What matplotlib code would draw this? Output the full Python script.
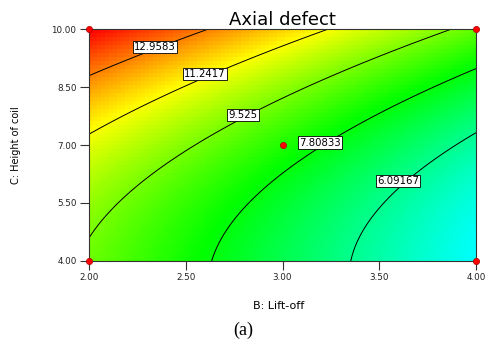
import matplotlib
matplotlib.use("Agg")
import matplotlib.pyplot as plt
import numpy as np
from matplotlib.colors import LinearSegmentedColormap

# factor ranges (actual units)
b_range = [2.0, 4.0]      # B: Lift-off
c_range = [4.0, 10.0]     # C: Height of coil

# quadratic model in coded units: a, b, c, bc, b^2, c^2
coef = [8.35, -2.574, 2.4835, -0.1865, 0.06, 1.06]

levels = [6.09167, 7.80833, 9.525, 11.2417, 12.9583]
x_ticks = [2.00, 2.50, 3.00, 3.50, 4.00]
y_ticks = [4.00, 5.50, 7.00, 8.50, 10.00]

# design points shown in red
design_b = [2.0, 4.0, 2.0, 4.0, 3.0]
design_c = [10.0, 10.0, 4.0, 4.0, 7.0]

# where the contour labels sit
label_pos = [(3.597, 6.07), (3.194, 7.06), (2.796, 7.78), (2.600, 8.84), (2.341, 9.53)]

FONT = "DejaVu Sans"


def model(b, c):
    x = (b - 3.0) / 1.0
    y = (c - 7.0) / 3.0
    return (coef[0] + coef[1] * x + coef[2] * y + coef[3] * x * y
            + coef[4] * x ** 2 + coef[5] * y ** 2)


fig = plt.figure(figsize=(4.86, 3.42), dpi=100)
ax = fig.add_axes([89 / 486, 1 - 261 / 342, 387 / 486, 232 / 342])

# coarse grid for the colour fill (blocky like the original)
bb = np.linspace(b_range[0], b_range[1], 97)
cc = np.linspace(c_range[0], c_range[1], 58)
BB, CC = np.meshgrid(bb, cc)
ZZ = model(BB, CC)

cmap = LinearSegmentedColormap.from_list(
    "de", ["#00ffff", "#00ff00", "#ffff00", "#ff0000"])
ax.imshow(ZZ, origin="lower", extent=[2, 4, 4, 10], aspect="auto",
          cmap=cmap, vmin=4.55, vmax=14.75, interpolation="nearest")

# fine grid for the contour lines
bf = np.linspace(b_range[0], b_range[1], 300)
cf = np.linspace(c_range[0], c_range[1], 300)
BF, CF = np.meshgrid(bf, cf)
ax.contour(BF, CF, model(BF, CF), levels=levels, colors="black", linewidths=0.7)

for lev, (px, py) in zip(levels, label_pos):
    ax.text(px, py, f"{lev:g}", fontsize=7.3, family=FONT,
            ha="center", va="center",
            bbox=dict(boxstyle="square,pad=0.12", fc="white", ec="black", lw=0.6))

ax.scatter(design_b, design_c, s=20, color="red", edgecolors="#aa0000",
           linewidths=0.5, zorder=5, clip_on=False)

ax.set_xlim(2, 4)
ax.set_ylim(4, 10)
ax.set_xticks(x_ticks)
ax.set_yticks(y_ticks)
ax.set_xticklabels([f"{t:.2f}" for t in x_ticks])
ax.set_yticklabels([f"{t:.2f}" for t in y_ticks])
ax.tick_params(direction="out", length=6.5, width=0.8, labelsize=6.3, pad=2.5,
               colors="#333333", labelcolor="#222222")
for lab in ax.get_xticklabels() + ax.get_yticklabels():
    lab.set_family(FONT)
for s in ax.spines.values():
    s.set_linewidth(0.8)
    s.set_color("#333333")

fig.text(282 / 486, 1 - 25 / 342, "Axial defect", fontsize=13, family=FONT,
         ha="center", va="baseline")
ax.set_xlabel("B: Lift-off", fontsize=8, family=FONT, va="center")
ax.xaxis.set_label_coords(0.49, (261 - 306) / 232)
ax.set_ylabel("C: Height of coil", fontsize=7, family=FONT, va="center")
ax.yaxis.set_label_coords((16 - 89) / 387, 0.5)

fig.text(243 / 486, 1 - 330 / 342, "(a)", fontsize=13, family="Liberation Serif",
         ha="center", va="center")

fig.savefig("out.png", dpi=100)
